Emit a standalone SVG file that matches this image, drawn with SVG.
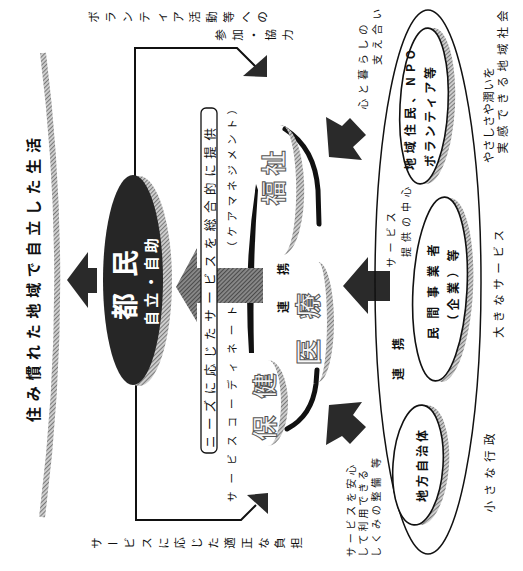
<svg xmlns="http://www.w3.org/2000/svg" width="523" height="571" viewBox="0 0 523 571">
<defs>
<pattern id="hatch" width="3" height="3" patternUnits="userSpaceOnUse" patternTransform="rotate(45)"><rect width="3" height="3" fill="#cfcfcf"/><line x1="0.5" y1="0" x2="0.5" y2="3" stroke="#7a7a7a" stroke-width="1.1"/></pattern>
<pattern id="hatchDark" width="3" height="3" patternUnits="userSpaceOnUse" patternTransform="rotate(45)"><rect width="3" height="3" fill="#8a8a8a"/><line x1="0.5" y1="0" x2="0.5" y2="3" stroke="#4a4a4a" stroke-width="1.2"/></pattern>
</defs>
<style>
.t { font-family: "Noto Sans CJK JP", "Noto Sans CJK SC", sans-serif; fill: #111; }
.b { font-weight: 700; }
.c { font-family: "Noto Sans CJK JP", "Noto Sans CJK SC", sans-serif; fill: #111; font-size: 11.5px; text-anchor: middle; dominant-baseline: central; }
.ln { fill: none; stroke: #111; stroke-width: 2; }
.arr { fill: #2a2a2a; }
.ell { fill: #fff; stroke: #111; stroke-width: 1.6; }
.shadow { fill: url(#hatch); }
.cloudtxt { font-family: "Noto Sans CJK JP", sans-serif; font-weight: 700; fill: #f6f6f6; stroke: #555; stroke-width: 1; }
</style>
<rect width="523" height="571" fill="#fff"/>

<g id="title">
<path d="M 43,53 Q 72,285 42,517" fill="none" stroke="url(#hatch)" stroke-width="6"/>
<text class="t b" transform="translate(32,280) rotate(-90)" text-anchor="middle" dominant-baseline="central" font-size="15" textLength="284" lengthAdjust="spacing">住み慣れた地域で自立した生活</text>
</g>

<g id="connectors">
<polygon class="arr" points="67,280 88,252 88,268 97,268 97,293 88,293 88,308"/>
<path class="ln" d="M 135,178 L 135,48 L 237,48 L 257,68"/>
<polygon class="arr" points="267,77 243,76 267,55"/>
<path class="ln" d="M 136,382 L 136,520 L 241,520 L 256,505"/>
<polygon class="arr" points="268,493 247,495 268,514"/>
<path d="M 285,129 Q 315,148 318,190 L 319,224" fill="none" stroke="#111" stroke-width="5" stroke-linecap="round"/>
<path d="M 317,370 L 316,384 Q 312,416 287,429" fill="none" stroke="#111" stroke-width="5" stroke-linecap="round"/>
<path d="M 256,184 Q 243,270 249,353 L 254,353 Q 252,270 258,190 Z" fill="#111"/>
<polygon fill="url(#hatchDark)" points="176,287 197,248 197,268 263,268 263,303 197,303 197,322"/>
<polygon class="arr" points="343,286 368,257 368,271 390,271 390,301 368,301 368,314"/>
<polygon class="arr" points="326,117 342,126 350,118 366,135 353,147 362,160 329,157"/>
<polygon class="arr" points="326,445 342,436 350,444 366,427 353,415 362,402 329,405"/>
</g>

<g id="tomin">
<ellipse cx="139" cy="281" rx="33" ry="105" class="shadow"/>
<ellipse cx="133" cy="280" rx="30" ry="105" fill="#262626"/>
<text transform="translate(123,285) rotate(-90)" text-anchor="middle" dominant-baseline="central" font-size="27" textLength="70" lengthAdjust="spacing" style="font-family:'Noto Sans CJK JP',sans-serif;font-weight:700;fill:#fff">都民</text>
<text transform="translate(150,282) rotate(-90)" text-anchor="middle" dominant-baseline="central" font-size="15" textLength="88" lengthAdjust="spacing" style="font-family:'Noto Sans CJK JP',sans-serif;font-weight:700;fill:#fff">自立・自助</text>
</g>

<g id="needs-box">
<rect x="201" y="108" width="16" height="345" rx="5" fill="#fff" stroke="#111" stroke-width="1.3"/>
<text class="t" transform="translate(209,288) rotate(-90)" text-anchor="middle" dominant-baseline="central" font-size="12.5" textLength="320" lengthAdjust="spacing">ニーズに応じたサービスを総合的に提供</text>
</g>

<g id="coordinate">
<text class="t" transform="translate(231,404) rotate(-90)" text-anchor="middle" dominant-baseline="central" font-size="10.5" textLength="196" lengthAdjust="spacing">サービスコーディネート</text>
<text class="t" transform="translate(231,178) rotate(-90)" text-anchor="middle" dominant-baseline="central" font-size="10.5" textLength="148" lengthAdjust="spacing">（ケアマネジメント）</text>
</g>

<g id="fukushi">
<path d="M 280,126 A 22,64 0 0 1 284,255 A 14,64 0 0 0 280,126 Z" class="shadow"/>
<text class="cloudtxt" transform="translate(272,178) rotate(-90)" text-anchor="middle" dominant-baseline="central" font-size="25" textLength="55" lengthAdjust="spacing">福祉</text>
</g>

<g id="iryo">
<path d="M 318,262 A 16,60 0 0 1 318,382 A 9,60 0 0 0 318,262 Z" class="shadow"/>
<text class="cloudtxt" transform="translate(306,329) rotate(-90)" text-anchor="middle" dominant-baseline="central" font-size="26" textLength="72" lengthAdjust="spacing">医療</text>
</g>

<g id="hoken">
<path d="M 268,360 A 20,43 0 0 1 268,446 A 13,43 0 0 0 268,360 Z" class="shadow"/>
<text class="cloudtxt" transform="translate(263,407) rotate(-90)" text-anchor="middle" dominant-baseline="central" font-size="25" textLength="67" lengthAdjust="spacing">保健</text>
</g>

<g id="renkei-1">
<text class="t b" transform="translate(282,288) rotate(-90)" text-anchor="middle" dominant-baseline="central" font-size="12" textLength="50" lengthAdjust="spacing">連携</text>
</g>

<g id="outer">
<ellipse cx="428" cy="282" rx="53" ry="272" fill="none" stroke="#111" stroke-width="1.5"/>
<text class="t b" transform="translate(397,359) rotate(-90)" text-anchor="middle" dominant-baseline="central" font-size="12" textLength="42" lengthAdjust="spacing">連携</text>
</g>

<g id="chiiki">
<ellipse cx="430" cy="106" rx="25" ry="78" transform="rotate(3 430 106)" class="shadow"/>
<ellipse cx="424" cy="106" rx="24" ry="78" transform="rotate(3 424 106)" class="ell"/>
<text class="t b" transform="translate(409,110) rotate(-90)" text-anchor="middle" dominant-baseline="central" font-size="12" textLength="120" lengthAdjust="spacing">地域住民、NPO</text>
<text class="t b" transform="translate(429,117) rotate(-90)" text-anchor="middle" dominant-baseline="central" font-size="12" textLength="100" lengthAdjust="spacing">ボランティア等</text>
</g>

<g id="minkan">
<ellipse cx="446" cy="290" rx="27" ry="92" transform="rotate(3 446 290)" class="shadow"/>
<ellipse cx="440" cy="289" rx="27" ry="92" transform="rotate(3 440 289)" class="ell"/>
<text class="t b" transform="translate(432,292) rotate(-90)" text-anchor="middle" dominant-baseline="central" font-size="12" textLength="95" lengthAdjust="spacing">民間事業者</text>
<text class="t b" transform="translate(452,288) rotate(-90)" text-anchor="middle" dominant-baseline="central" font-size="12" textLength="77" lengthAdjust="spacing">（企業）等</text>
</g>

<g id="chiho">
<ellipse cx="424" cy="465" rx="25" ry="60" transform="rotate(4 424 465)" class="shadow"/>
<ellipse cx="418" cy="465" rx="25" ry="60" transform="rotate(4 418 465)" class="ell"/>
<text class="t b" transform="translate(421,466) rotate(-90)" text-anchor="middle" dominant-baseline="central" font-size="12" textLength="72" lengthAdjust="spacing">地方自治体</text>
</g>

<g id="label-volunteer">
<text class="c" transform="translate(93,17) rotate(-90)">ボ</text>
<text class="c" transform="translate(110,17) rotate(-90)">ラ</text>
<text class="c" transform="translate(127,17) rotate(-90)">ン</text>
<text class="c" transform="translate(144,17) rotate(-90)">テ</text>
<text class="c" transform="translate(161,17) rotate(-90)">ィ</text>
<text class="c" transform="translate(178,17) rotate(-90)">ア</text>
<text class="c" transform="translate(194,17) rotate(-90)">活</text>
<text class="c" transform="translate(211,17) rotate(-90)">動</text>
<text class="c" transform="translate(228,17) rotate(-90)">等</text>
<text class="c" transform="translate(245,17) rotate(-90)">へ</text>
<text class="c" transform="translate(262,17) rotate(-90)">の</text>
<text class="c" transform="translate(220,35) rotate(-90)">参</text>
<text class="c" transform="translate(237,35) rotate(-90)">加</text>
<text class="c" transform="translate(253,35) rotate(-90)">・</text>
<text class="c" transform="translate(270,35) rotate(-90)">協</text>
<text class="c" transform="translate(287,35) rotate(-90)">力</text>
</g>

<g id="label-burden">
<text class="c" transform="translate(96,543) rotate(-90)">サ</text>
<text class="c" x="112.7" y="543">ー</text>
<text class="c" transform="translate(129.3,543) rotate(-90)">ビ</text>
<text class="c" transform="translate(146,543) rotate(-90)">ス</text>
<text class="c" transform="translate(162.7,543) rotate(-90)">に</text>
<text class="c" transform="translate(179.3,543) rotate(-90)">応</text>
<text class="c" transform="translate(196,543) rotate(-90)">じ</text>
<text class="c" transform="translate(212.7,543) rotate(-90)">た</text>
<text class="c" transform="translate(229.3,543) rotate(-90)">適</text>
<text class="c" transform="translate(246,543) rotate(-90)">正</text>
<text class="c" transform="translate(262.7,543) rotate(-90)">な</text>
<text class="c" transform="translate(279.3,543) rotate(-90)">負</text>
<text class="c" transform="translate(296,543) rotate(-90)">担</text>
</g>

<g id="labels">
<text class="t" transform="translate(362,67) rotate(-90)" text-anchor="middle" dominant-baseline="central" font-size="10.5" textLength="85" lengthAdjust="spacing">心と暮らしの</text>
<text class="t" transform="translate(376,37) rotate(-90)" text-anchor="middle" dominant-baseline="central" font-size="10.5" textLength="56" lengthAdjust="spacing">支え合い</text>
<text class="t" transform="translate(488,115) rotate(-90)" text-anchor="middle" dominant-baseline="central" font-size="11.5" textLength="96" lengthAdjust="spacing">やさしさや潤いを</text>
<text class="t" transform="translate(502,82) rotate(-90)" text-anchor="middle" dominant-baseline="central" font-size="11.5" textLength="143" lengthAdjust="spacing">実感できる地域社会</text>
<text class="t" transform="translate(390,240) rotate(-90)" text-anchor="middle" dominant-baseline="central" font-size="10" textLength="55" lengthAdjust="spacing">サービス</text>
<text class="t" transform="translate(405,222) rotate(-90)" text-anchor="middle" dominant-baseline="central" font-size="10" textLength="70" lengthAdjust="spacing">提供の中心</text>
<text class="t" transform="translate(498,284) rotate(-90)" text-anchor="middle" dominant-baseline="central" font-size="11.5" textLength="108" lengthAdjust="spacing">大きなサービス</text>
<text class="t" transform="translate(489,473) rotate(-90)" text-anchor="middle" dominant-baseline="central" font-size="11.5" textLength="79" lengthAdjust="spacing">小さな行政</text>
<text class="t" transform="translate(350,557) rotate(-90)" dominant-baseline="central" font-size="10" textLength="92" lengthAdjust="spacing">サービスを安心</text>
<text class="t" transform="translate(362,557) rotate(-90)" dominant-baseline="central" font-size="10" textLength="87" lengthAdjust="spacing">して利用できる</text>
<text class="t" transform="translate(375,557) rotate(-90)" dominant-baseline="central" font-size="10" textLength="99" lengthAdjust="spacing">しくみの整備 等</text>
</g>
</svg>
